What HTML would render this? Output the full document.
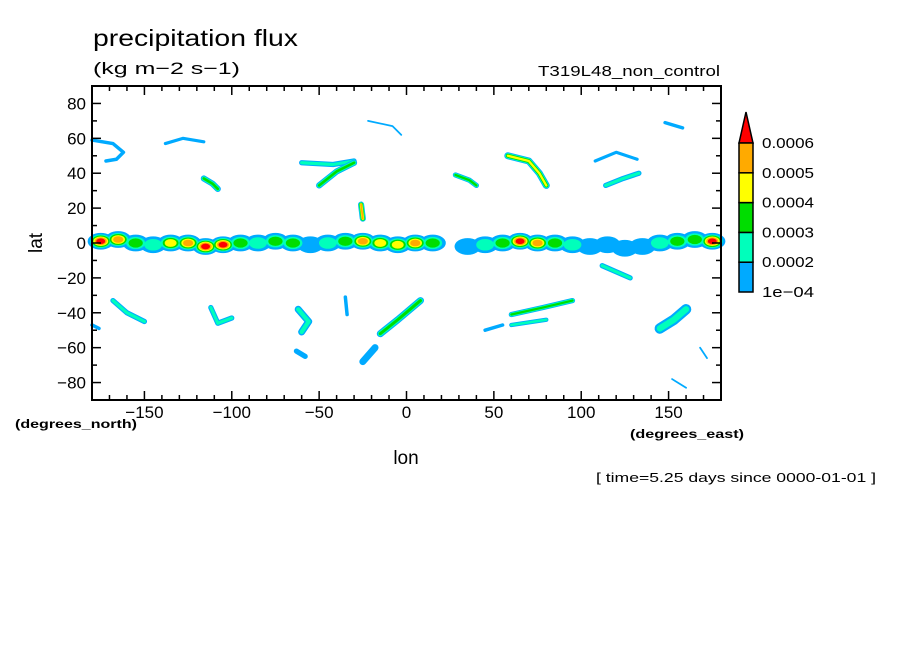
<!DOCTYPE html>
<html><head><meta charset="utf-8"><style>
body{margin:0;background:#fff;}
svg{display:block;font-family:"Liberation Sans",sans-serif;}
</style></head><body>
<svg id="chart" width="904" height="654" viewBox="0 0 904 654" xmlns="http://www.w3.org/2000/svg">
<rect width="904" height="654" fill="#fff"/>
<text x="93" y="46" font-size="23" fill="#000" textLength="205" lengthAdjust="spacingAndGlyphs">precipitation flux</text>
<text x="93" y="74" font-size="17" fill="#000" textLength="147" lengthAdjust="spacingAndGlyphs">(kg m−2 s−1)</text>
<text x="538" y="76" font-size="15" fill="#000" textLength="182" lengthAdjust="spacingAndGlyphs">T319L48_non_control</text>
<g id="data"></g>
<g id="axes"></g>
<text transform="translate(42,243) rotate(-90)" font-size="19" text-anchor="middle">lat</text>
<text x="406" y="464" font-size="19" text-anchor="middle">lon</text>
<text x="15" y="428" font-size="12" font-weight="bold" textLength="122" lengthAdjust="spacingAndGlyphs">(degrees_north)</text>
<text x="630" y="438" font-size="12" font-weight="bold" textLength="114" lengthAdjust="spacingAndGlyphs">(degrees_east)</text>
<text x="596" y="482" font-size="13" textLength="280" lengthAdjust="spacingAndGlyphs">[ time=5.25 days since 0000-01-01 ]</text>
<g id="legend"></g>
</svg>
<script>
const colors=["#00aaff","#00ffbb","#00dd00","#ffff00","#ffaa00","#ff0000"];
const levelLabels=["1e-04","0.0002","0.0003","0.0004","0.0005","0.0006"];
const latTicks=[80,60,40,20,0,-20,-40,-60,-80];
const lonTicks=[-150,-100,-50,0,50,100,150];
const bandLons=[-175,-165,-155,-145,-135,-125,-115,-105,-95,-85,-75,-65,-55,-45,-35,-25,-15,-5,5,15,25,35,45,55,65,75,85,95,105,115,125,135,145,155,165,175];
const bandLevels=[6,5,3,2,4,5,6,6,3,2,3,3,1,2,3,5,4,4,5,3,0,1,2,3,6,5,3,2,1,1,1,1,2,3,3,6];
const bandLat=[1,2,0,-1,0,0,-2,-1,0,0,1,0,-1,0,1,1,0,-1,0,0,-1,-2,-1,0,1,0,0,-1,-2,-1,-3,-2,0,1,2,1];
const features=[
 {pts:[[-180,59],[-168,57],[-162,52],[-166,48],[-172,47]],w:2,lv:1},
 {pts:[[-138,57],[-128,60],[-116,58]],w:1.8,lv:1},
 {pts:[[-116,37],[-111,34],[-108,31]],w:3.5,lv:3},
 {pts:[[-60,46],[-42,45],[-30,47]],w:3,lv:2},
 {pts:[[-30,46],[-40,41],[-50,33]],w:3.5,lv:3},
 {pts:[[-26,22],[-25,14]],w:3.5,lv:5},
 {pts:[[-22,70],[-8,67],[-3,62]],w:1,lv:1},
 {pts:[[28,39],[36,36],[40,33]],w:3,lv:3},
 {pts:[[58,50],[70,47],[76,40],[80,33]],w:4,lv:4},
 {pts:[[108,47],[120,52],[132,48]],w:1.8,lv:1},
 {pts:[[114,33],[124,37],[133,40]],w:3,lv:2},
 {pts:[[148,69],[158,66]],w:2,lv:1},
 {pts:[[-168,-33],[-160,-40],[-150,-45]],w:3,lv:2},
 {pts:[[-180,-47],[-176,-49]],w:2,lv:1},
 {pts:[[-112,-37],[-108,-46],[-100,-43]],w:3,lv:2},
 {pts:[[-62,-38],[-56,-45],[-60,-51]],w:4,lv:2},
 {pts:[[-35,-31],[-34,-41]],w:2,lv:1},
 {pts:[[-15,-52],[-5,-44],[8,-33]],w:4,lv:3},
 {pts:[[-25,-68],[-18,-60]],w:4,lv:1},
 {pts:[[45,-50],[55,-47]],w:2,lv:1},
 {pts:[[60,-41],[78,-37],[95,-33]],w:3,lv:3},
 {pts:[[60,-47],[80,-44]],w:2.5,lv:2},
 {pts:[[112,-13],[128,-20]],w:3,lv:2},
 {pts:[[145,-49],[153,-44],[160,-38]],w:6,lv:2},
 {pts:[[-63,-62],[-58,-65]],w:3,lv:1},
 {pts:[[152,-78],[160,-83]],w:1,lv:1},
 {pts:[[168,-60],[172,-66]],w:1,lv:1}
];
const X0=92,X1=721,Y0=86,Y1=400;
const xs=lon=>X0+(lon+180)/360*(X1-X0);
const ys=lat=>Y0+(90-lat)/180*(Y1-Y0);
const NS="http://www.w3.org/2000/svg";
function mk(tag,attrs,parent){const e=document.createElementNS(NS,tag);for(const k in attrs)e.setAttribute(k,attrs[k]);parent.appendChild(e);return e;}
const dataG=document.getElementById('data');
const pxPerDeg=(X1-X0)/360;
for(let l=0;l<6;l++){
  bandLons.forEach((lon,i)=>{
    const lv=bandLevels[i];
    if(l>=lv) return;
    const f=1-l/(lv+2);
    const el=mk('ellipse',{cx:xs(lon),cy:ys(bandLat[i]),rx:(l===0?7.5:6.8*f)*pxPerDeg,ry:(l===0?4.8:4.4*f)*pxPerDeg,fill:colors[l]},dataG);
    
    
  });
}
features.forEach(f=>{
  const d=f.pts.map((p,i)=>(i?'L':'M')+xs(p[0])+' '+ys(p[1])).join(' ');
  for(let l=0;l<f.lv;l++){
    const el=mk('path',{d:d,fill:'none',stroke:colors[l],'stroke-width':Math.max(1,(f.w-l*f.w/(f.lv+0.5))*pxPerDeg),'stroke-linecap':'round','stroke-linejoin':'round'},dataG);
    
    
  }
});
const ax=document.getElementById('axes');
const fr=mk('rect',{x:X0,y:Y0,width:X1-X0,height:Y1-Y0,fill:'none',stroke:'#000','stroke-width':2},ax);


for(let lat=-90;lat<=90;lat+=10){
  const len=(lat%20===0)?9:5;
  mk('line',{x1:X0,x2:X0+len,y1:ys(lat),y2:ys(lat),stroke:'#000','stroke-width':1.5},ax);
  mk('line',{x1:X1,x2:X1-len,y1:ys(lat),y2:ys(lat),stroke:'#000','stroke-width':1.5},ax);
}
for(let lon=-180;lon<=180;lon+=10){
  const len=(lon%50===0)?9:5;
  mk('line',{x1:xs(lon),x2:xs(lon),y1:Y0,y2:Y0+len,stroke:'#000','stroke-width':1.5},ax);
  mk('line',{x1:xs(lon),x2:xs(lon),y1:Y1,y2:Y1-len,stroke:'#000','stroke-width':1.5},ax);
}
latTicks.forEach(v=>{
  const t=mk('text',{x:86,y:ys(v)+6,'font-size':17,'text-anchor':'end'},ax);
  t.textContent=v<0?'−'+(-v):String(v);
  
  
});
lonTicks.forEach(v=>{
  const t=mk('text',{x:xs(v),y:418,'font-size':17,'text-anchor':'middle'},ax);
  t.textContent=v<0?'−'+(-v):String(v);
  
  
});
const lg=document.getElementById('legend');
const bx=739,bw=14,barTop=143,bh=29.8;
const tri=mk('path',{d:`M${bx} ${barTop} L${bx+bw/2} 112 L${bx+bw} ${barTop} Z`,fill:colors[5],stroke:'#000','stroke-width':1.5},lg);


for(let i=0;i<5;i++){
  const r=mk('rect',{x:bx,y:barTop+(4-i)*bh,width:bw,height:bh,fill:colors[i],stroke:'#000','stroke-width':1.5},lg);
  
  
}
levelLabels.forEach((s,i)=>{
  const t=mk('text',{x:762,y:barTop+(5-i)*bh+5,'font-size':15,textLength:52,lengthAdjust:'spacingAndGlyphs'},lg);
  t.textContent=s.replace('-','−');
  
  
});
</script>
</body></html>
